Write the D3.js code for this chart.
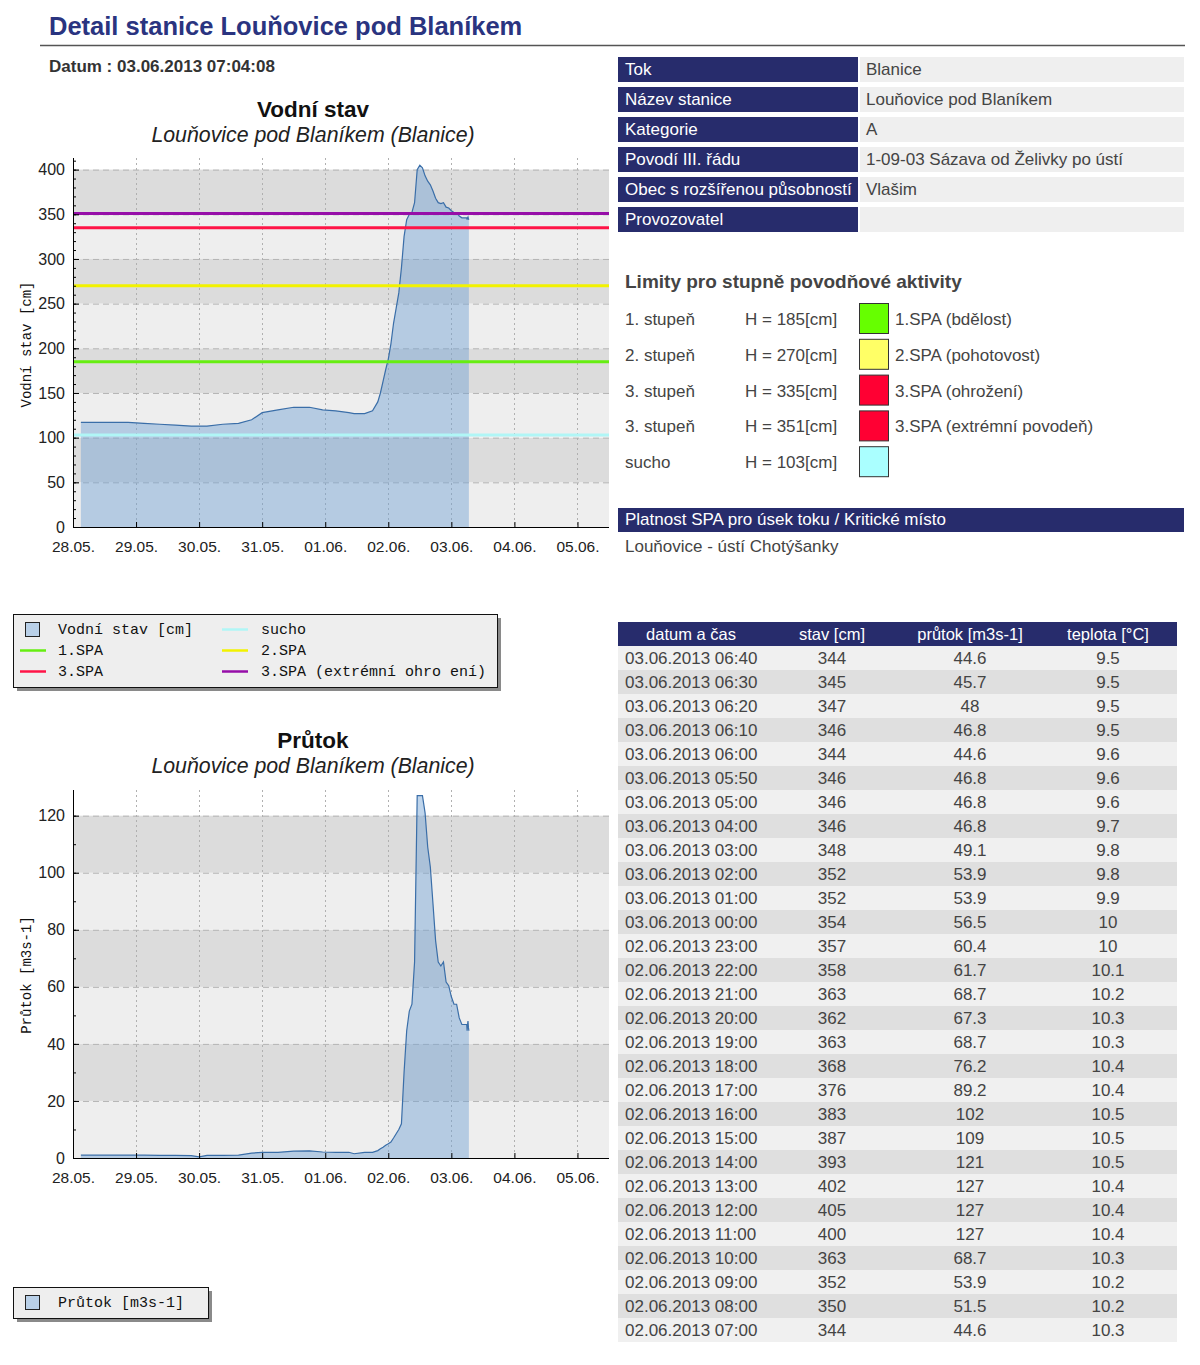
<!DOCTYPE html>
<html>
<head>
<meta charset="utf-8">
<script src="https://cdn.jsdelivr.net/npm/d3@7"></script>
<style>
body { margin: 0; background: #fff; }
svg text { font-family: "Liberation Sans", Arial, sans-serif; }
.mono { font-family: "Liberation Mono", "DejaVu Sans Mono", monospace; }
</style>
</head>
<body>
<svg width="1200" height="1365"></svg>
<script>
const svg = d3.select("svg");
const parse = d3.timeParse("%d.%m.%Y %H:%M");

// history (before the table starts)
const histTimes = [
    "28.05.2013 03:00", "28.05.2013 09:00", "28.05.2013 15:00", "28.05.2013 21:00",
    "29.05.2013 03:00", "29.05.2013 09:00", "29.05.2013 15:00", "29.05.2013 21:00",
    "30.05.2013 00:00", "30.05.2013 03:00", "30.05.2013 09:00", "30.05.2013 15:00",
    "30.05.2013 20:00", "31.05.2013 00:00", "31.05.2013 06:00", "31.05.2013 12:00",
    "31.05.2013 18:00", "31.05.2013 23:00", "01.06.2013 04:00", "01.06.2013 09:00",
    "01.06.2013 11:00", "01.06.2013 15:00", "01.06.2013 18:00", "01.06.2013 20:00",
    "01.06.2013 21:00", "01.06.2013 22:00", "01.06.2013 23:00", "02.06.2013 00:00",
    "02.06.2013 01:00", "02.06.2013 02:00", "02.06.2013 03:00", "02.06.2013 04:00",
    "02.06.2013 05:00", "02.06.2013 06:00"
];
const histStav = [117, 117, 117, 117, 116, 115, 114, 113, 113, 113, 115, 116,
    120, 128, 131, 134, 134, 131, 130, 128, 127, 127, 130, 140,
    150, 163, 176, 188, 205, 228, 245, 262, 290, 325];
const histPrutok = [1.0, 1.0, 1.0, 1.0, 1.0, 0.9, 0.9, 0.8, 0.4, 0.9, 0.9, 1.0,
    1.7, 2.0, 2.0, 2.4, 2.5, 2.1, 2.0, 2.0, 1.5, 2.0, 2.0, 2.6,
    3.2, 3.8, 4.5, 5.0, 5.6, 7.0, 8.5, 10, 12, 30];

// table (newest first)
const tabTimes = [
    "03.06.2013 06:40", "03.06.2013 06:30", "03.06.2013 06:20", "03.06.2013 06:10",
    "03.06.2013 06:00", "03.06.2013 05:50", "03.06.2013 05:00", "03.06.2013 04:00",
    "03.06.2013 03:00", "03.06.2013 02:00", "03.06.2013 01:00", "03.06.2013 00:00",
    "02.06.2013 23:00", "02.06.2013 22:00", "02.06.2013 21:00", "02.06.2013 20:00",
    "02.06.2013 19:00", "02.06.2013 18:00", "02.06.2013 17:00", "02.06.2013 16:00",
    "02.06.2013 15:00", "02.06.2013 14:00", "02.06.2013 13:00", "02.06.2013 12:00",
    "02.06.2013 11:00", "02.06.2013 10:00", "02.06.2013 09:00", "02.06.2013 08:00",
    "02.06.2013 07:00"
];
const tabStav = [344, 345, 347, 346, 344, 346, 346, 346, 348, 352, 352, 354, 357, 358,
    363, 362, 363, 368, 376, 383, 387, 393, 402, 405, 400, 363, 352, 350, 344];
const tabPrutok = ["44.6", "45.7", "48", "46.8", "44.6", "46.8", "46.8", "46.8", "49.1",
    "53.9", "53.9", "56.5", "60.4", "61.7", "68.7", "67.3", "68.7", "76.2", "89.2", "102",
    "109", "121", "127", "127", "127", "68.7", "53.9", "51.5", "44.6"];
const tabTeplota = ["9.5", "9.5", "9.5", "9.5", "9.6", "9.6", "9.6", "9.7", "9.8", "9.8",
    "9.9", "10", "10", "10.1", "10.2", "10.3", "10.3", "10.4", "10.4", "10.5", "10.5",
    "10.5", "10.4", "10.4", "10.4", "10.3", "10.2", "10.2", "10.3"];
const tabHeader = ["datum a čas", "stav [cm]", "průtok [m3s-1]", "teplota [°C]"];

const infoLabels = ["Tok", "Název stanice", "Kategorie", "Povodí III. řádu",
    "Obec s rozšířenou působností", "Provozovatel"];
const infoValues = ["Blanice", "Louňovice pod Blaníkem", "A",
    "1-09-03 Sázava od Želivky po ústí", "Vlašim", ""];

const limitNames = ["1. stupeň", "2. stupeň", "3. stupeň", "3. stupeň", "sucho"];
const limitValues = [185, 270, 335, 351, 103];
const limitLabels = ["1.SPA (bdělost)", "2.SPA (pohotovost)", "3.SPA (ohrožení)",
    "3.SPA (extrémní povodeň)", ""];
const swatchColors = ["#66ff00", "#ffff66", "#ff0033", "#ff0033", "#aaffff"];
const lineColors = ["#66ee11", "#f2f200", "#ff1447", "#960ea8", "#b0f6f6"];

const legend1Labels = ["Vodní stav [cm]", "sucho", "1.SPA", "2.SPA", "3.SPA",
    "3.SPA (extrémní ohro ení)"];

const dayStart = parse("28.05.2013 00:00");
const dayEnd = parse("05.06.2013 12:00");

const times = histTimes.concat(tabTimes.slice().reverse()).map(parse);
const stav = histStav.concat(tabStav.slice().reverse());
const prutok = histPrutok.concat(tabPrutok.slice().reverse().map(Number));

const navy = "#272c6c";
const txt = "#444";

// header
svg.append("text").attr("x", 49).attr("y", 35)
    .attr("font-size", 25.5).attr("font-weight", "bold").attr("fill", "#2a3480")
    .text("Detail stanice Louňovice pod Blaníkem");
svg.append("line").attr("x1", 40).attr("x2", 1185).attr("y1", 45.5).attr("y2", 45.5)
    .attr("stroke", "#555").attr("stroke-width", 1.5);
svg.append("text").attr("x", 49).attr("y", 72)
    .attr("font-size", 17).attr("font-weight", "bold").attr("fill", "#333")
    .text("Datum : 03.06.2013 07:04:08");

function drawChart(o) {
    const g = svg.append("g");
    const x = d3.scaleTime().domain([dayStart, dayEnd]).range([73, 609]);
    const y = d3.scaleLinear().domain(o.yDomain).range([o.bottom, o.top]);

    g.append("text").attr("x", 313).attr("y", o.titleY)
        .attr("text-anchor", "middle").attr("font-size", 22.5).attr("font-weight", "bold")
        .attr("fill", "#111").text(o.title);
    g.append("text").attr("x", 313).attr("y", o.titleY + 25)
        .attr("text-anchor", "middle").attr("font-size", 21.3).attr("font-style", "italic")
        .attr("fill", "#222").text("Louňovice pod Blaníkem (Blanice)");

    // bands
    const bands = o.yTicks.slice(0, -1);
    g.selectAll(".band").data(bands).enter().append("rect")
        .attr("x", 73).attr("width", 609 - 73)
        .attr("y", (d, i) => y(o.yTicks[i + 1]))
        .attr("height", (d, i) => y(d) - y(o.yTicks[i + 1]))
        .attr("fill", (d, i) => i % 2 ? "#dcdcdc" : "#eeeeee");

    // grid
    g.selectAll(".hg").data(o.yTicks.slice(1)).enter().append("line")
        .attr("x1", 73).attr("x2", 609).attr("y1", d => y(d) + 0.5).attr("y2", d => y(d) + 0.5)
        .attr("stroke", "#b4b4b4").attr("stroke-dasharray", "6,4");
    const days = d3.timeDay.range(dayStart, dayEnd).slice(1);
    g.selectAll(".vg").data(days).enter().append("line")
        .attr("x1", d => Math.round(x(d)) + 0.5).attr("x2", d => Math.round(x(d)) + 0.5)
        .attr("y1", o.top).attr("y2", o.bottom)
        .attr("stroke", "#b0b0b0").attr("stroke-dasharray", "2,3");

    // series
    const area = d3.area().x((d, i) => x(times[i])).y0(o.bottom).y1(d => y(d));
    const line = d3.line().x((d, i) => x(times[i])).y(d => y(d));
    g.append("path").datum(o.values).attr("d", area)
        .attr("fill", "#6d9fd3").attr("fill-opacity", 0.44);
    g.append("path").datum(o.values).attr("d", line)
        .attr("fill", "none").attr("stroke", "#3a6ea8").attr("stroke-width", 1.2);

    // limits
    if (o.limits) {
        g.selectAll(".lim").data(o.limits).enter().append("line")
            .attr("x1", 73).attr("x2", 609)
            .attr("y1", d => y(d.v)).attr("y2", d => y(d.v))
            .attr("stroke", d => d.c).attr("stroke-width", 3);
    }

    // axes
    const yAxis = g.append("g").attr("transform", "translate(73,0)")
        .call(d3.axisLeft(y).tickValues(o.yTicks).tickSizeInner(-6).tickSizeOuter(0).tickPadding(8));
    g.append("g").attr("transform", "translate(73,0)")
        .call(d3.axisLeft(y).tickValues(d3.range(0, o.yDomain[1], 10)).tickSize(-3).tickFormat(""))
        .select(".domain").remove();
    yAxis.select(".domain").attr("d", `M0.5,${o.top}V${o.bottom}`).attr("stroke", "#000");
    yAxis.selectAll("text").attr("font-size", 16).attr("fill", "#222")
        .attr("font-family", "Liberation Sans, Arial, sans-serif");

    const xAxis = g.append("g").attr("transform", `translate(0,${o.bottom})`)
        .call(d3.axisBottom(x).ticks(d3.timeDay.every(1)).tickFormat(d3.timeFormat("%d.%m."))
            .tickSizeInner(-5).tickSizeOuter(0).tickPadding(14));
    xAxis.select(".domain").attr("d", "M73,0.5H609").attr("stroke", "#000");
    xAxis.selectAll("text").attr("font-size", 15.5).attr("fill", "#222")
        .attr("font-family", "Liberation Sans, Arial, sans-serif");

    g.append("text").attr("class", "mono")
        .attr("transform", `translate(31,${(o.top + o.bottom) / 2 + o.labelShift}) rotate(-90)`)
        .attr("text-anchor", "middle").attr("font-size", 14).attr("fill", "#111")
        .text(o.yLabel);
}

drawChart({
    title: "Vodní stav", titleY: 117, top: 158, bottom: 527, yDomain: [0, 413],
    yTicks: d3.range(0, 401, 50), values: stav, yLabel: "Vodní stav [cm]", labelShift: 2,
    limits: [3, 2, 4, 1, 0].map(i => ({ v: limitValues[i], c: lineColors[i] }))
});
drawChart({
    title: "Průtok", titleY: 748, top: 790, bottom: 1158, yDomain: [0, 129],
    yTicks: d3.range(0, 121, 20), values: prutok, yLabel: "Průtok [m3s-1]", labelShift: 1
});

// legends
function legendBox(x0, y0, w, h) {
    svg.append("rect").attr("x", x0 + 4).attr("y", y0 + 4).attr("width", w).attr("height", h)
        .attr("fill", "#8a8a8a");
    svg.append("rect").attr("x", x0 + 0.5).attr("y", y0 + 0.5).attr("width", w).attr("height", h)
        .attr("fill", "#eeeeee").attr("stroke", "#111");
}
legendBox(13, 614, 484, 73);
const legItems = [
    { t: legend1Labels[0], sq: true, c: 0, r: 0 },
    { t: legend1Labels[1], col: lineColors[4], c: 1, r: 0 },
    { t: legend1Labels[2], col: lineColors[0], c: 0, r: 1 },
    { t: legend1Labels[3], col: lineColors[1], c: 1, r: 1 },
    { t: legend1Labels[4], col: lineColors[2], c: 0, r: 2 },
    { t: legend1Labels[5], col: lineColors[3], c: 1, r: 2 }
];
legItems.forEach(d => {
    const lx = d.c ? 222 : 20, ty = 629 + d.r * 21;
    if (d.sq) {
        svg.append("rect").attr("x", 25.5).attr("y", ty - 6.5).attr("width", 14).attr("height", 14)
            .attr("fill", "#b9d0e8").attr("stroke", "#222");
    } else {
        svg.append("line").attr("x1", lx).attr("x2", lx + 26).attr("y1", ty + 0.5).attr("y2", ty + 0.5)
            .attr("stroke", d.col).attr("stroke-width", 2.5);
    }
    svg.append("text").attr("class", "mono").attr("x", d.c ? 261 : 58).attr("y", ty + 5)
        .attr("font-size", 15).attr("fill", "#111").text(d.t);
});
legendBox(13, 1287, 195, 31);
svg.append("rect").attr("x", 25.5).attr("y", 1295.5).attr("width", 14).attr("height", 14)
    .attr("fill", "#b9d0e8").attr("stroke", "#222");
svg.append("text").attr("class", "mono").attr("x", 58).attr("y", 1307)
    .attr("font-size", 15).attr("fill", "#111").text("Průtok  [m3s-1]");

// info table
const info = svg.append("g");
infoLabels.forEach((l, i) => {
    const ry = 57 + i * 30;
    info.append("rect").attr("x", 618).attr("y", ry).attr("width", 240).attr("height", 25).attr("fill", navy);
    info.append("rect").attr("x", 860).attr("y", ry).attr("width", 324).attr("height", 25).attr("fill", "#efefef");
    info.append("text").attr("x", 625).attr("y", ry + 18).attr("font-size", 17).attr("fill", "#fff").text(l);
    info.append("text").attr("x", 866).attr("y", ry + 18).attr("font-size", 17).attr("fill", txt).text(infoValues[i]);
});

// limits
svg.append("text").attr("x", 625).attr("y", 288).attr("font-size", 19)
    .attr("font-weight", "bold").attr("fill", txt).text("Limity pro stupně povodňové aktivity");
limitNames.forEach((n, i) => {
    const cy = 319 + i * 35.8;
    svg.append("text").attr("x", 625).attr("y", cy + 6).attr("font-size", 17).attr("fill", txt).text(n);
    svg.append("text").attr("x", 745).attr("y", cy + 6).attr("font-size", 17).attr("fill", txt)
        .text("H = " + limitValues[i] + "[cm]");
    svg.append("rect").attr("x", 859.5).attr("y", cy - 15.5).attr("width", 29).attr("height", 30)
        .attr("fill", swatchColors[i]).attr("stroke", "#333");
    svg.append("text").attr("x", 895).attr("y", cy + 6).attr("font-size", 17).attr("fill", txt).text(limitLabels[i]);
});

svg.append("rect").attr("x", 618).attr("y", 508).attr("width", 566).attr("height", 24).attr("fill", navy);
svg.append("text").attr("x", 625).attr("y", 525).attr("font-size", 17).attr("fill", "#fff")
    .text("Platnost SPA pro úsek toku / Kritické místo");
svg.append("text").attr("x", 625).attr("y", 552).attr("font-size", 17).attr("fill", txt)
    .text("Louňovice - ústí Chotýšanky");

// data table
const colX = [691, 832, 970, 1108];
svg.append("rect").attr("x", 618).attr("y", 622).attr("width", 559).attr("height", 24).attr("fill", navy);
tabHeader.forEach((h, i) => {
    svg.append("text").attr("x", colX[i]).attr("y", 640).attr("text-anchor", "middle")
        .attr("font-size", 16.5).attr("fill", "#fff").text(h);
});
const rows = svg.selectAll(".row").data(tabTimes).enter().append("g")
    .attr("transform", (d, i) => `translate(0,${646 + i * 24})`);
rows.append("rect").attr("x", 618).attr("width", 559).attr("height", 24)
    .attr("fill", (d, i) => i % 2 ? "#dfdfdf" : "#f0f0f0");
rows.append("text").attr("x", 625).attr("y", 18).attr("font-size", 17).attr("fill", txt).text(d => d);
rows.append("text").attr("x", colX[1]).attr("y", 18).attr("text-anchor", "middle")
    .attr("font-size", 17).attr("fill", txt).text((d, i) => tabStav[i]);
rows.append("text").attr("x", colX[2]).attr("y", 18).attr("text-anchor", "middle")
    .attr("font-size", 17).attr("fill", txt).text((d, i) => tabPrutok[i]);
rows.append("text").attr("x", colX[3]).attr("y", 18).attr("text-anchor", "middle")
    .attr("font-size", 17).attr("fill", txt).text((d, i) => tabTeplota[i]);
</script>
</body>
</html>
